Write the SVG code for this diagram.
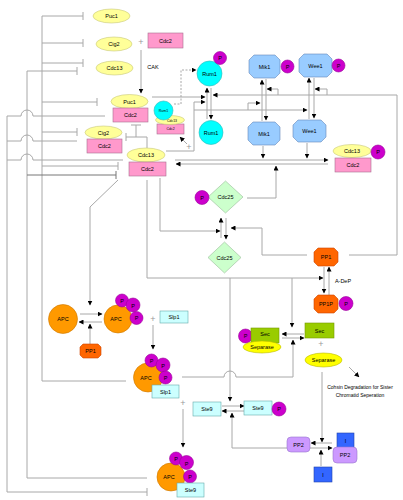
<svg xmlns="http://www.w3.org/2000/svg" width="403" height="500" viewBox="0 0 403 500">
<style>
.ln{fill:none;stroke:#a8a8a8;stroke-width:1}
.dk{stroke:#777}
.ds{stroke-dasharray:2,1.5}
.ar{marker-end:url(#ah)}
.t{font-family:"Liberation Sans",Arial,sans-serif;font-size:5.5px;text-anchor:middle;dominant-baseline:central;fill:#000}
.ts{font-size:3.5px}
.pl{font-family:"Liberation Sans",Arial,sans-serif;font-size:9px;text-anchor:middle;dominant-baseline:central;fill:#999}
.yel{fill:#ffff99;stroke:#c8c878;stroke-width:.6}
.pink{fill:#ff99cc;stroke:#a87090;stroke-width:.6}
.cyan{fill:#00ffff;stroke:#30b8b8;stroke-width:.6}
.p{fill:#cc00cc;stroke:#990099;stroke-width:.6}
.blue{fill:#99ccff;stroke:#6688bb;stroke-width:.6}
.green{fill:#ccffcc;stroke:#99bb99;stroke-width:.6}
.pp1{fill:#ff6600;stroke:#cc4400;stroke-width:.6}
.apc{fill:#ff9900;stroke:#cc7700;stroke-width:.6}
.lc{fill:#ccffff;stroke:#66aaaa;stroke-width:.6}
.sec{fill:#99cc00;stroke:#779900;stroke-width:.6}
.sep{fill:#ffff00;stroke:#bbbb00;stroke-width:.6}
.pp2{fill:#cc99ff;stroke:#9977cc;stroke-width:.6}
.inh{fill:#3366ff;stroke:#2244aa;stroke-width:.6}
</style>
<defs>
<marker id="ah" markerUnits="userSpaceOnUse" markerWidth="5" markerHeight="5" refX="4.5" refY="2.5" orient="auto">
<path d="M0,0 L5,2.5 L0,5 z" fill="#000"/>
</marker>
</defs>
<rect width="403" height="500" fill="#fff"/>

<g id="connectors">
<!-- left trunk x=42 -->
<path class="ln" d="M83,16 H42 V381 H126"/>
<path class="ln" d="M83,12 V20"/>
<path class="ln" d="M42,43 H83 M83,39 V47"/>
<path class="ln" d="M42,63 H83 M83,59 V67"/>
<path class="ln" d="M42,102 H97 M97,98 V106"/>
<path class="ln" d="M42,132 H77 M77,128 V136"/>
<path class="ln" d="M42,166 H118 M118,162 V170"/>
<!-- trunk x=27 -->
<path class="ln" d="M77,71 H27 V478 H147"/>
<path class="ln" d="M77,67 V75"/>
<path class="ln dk" d="M27,175 H116 M116,171 V179"/>
<!-- trunk x=7 -->
<path class="ln" d="M105,116 H33 A6,6 0 0 0 21,116 H7 V492 H147"/>
<path class="ln" d="M147,488 V496"/>
<path class="ln" d="M7,141 H21 A6,6 0 0 1 33,141 H77"/>
<path class="ln" d="M7,160 H21 A6,6 0 0 1 33,160 H123"/>
<!-- Cdc13/Cdc2 inhibits complexes -->
<path class="ln" d="M147,148 V137 H126 M126,133 V141 M136,137 V125 M131,125 H141"/>
<!-- CAK arrow -->
<path class="ln ar" d="M141,50 V93"/>
<!-- to APC -->
<path class="ln ar" d="M118,180 L90,207 V305"/>
<!-- Rum1 -->
<path class="ln ar" d="M152,97 H205"/>
<path class="ln ar" d="M166,151 H194 V102 H205"/>
<path class="ln ar" d="M194,110 H307"/>
<path class="ln ar" d="M248,110 V103 H260"/>
<path class="ln ar" d="M207,119 V88"/>
<path class="ln ar" d="M211,88 V119"/>
<path class="ln ar" d="M262,121 V80"/>
<path class="ln ar" d="M266,79 V120"/>
<path class="ln ar" d="M309,119 V78"/>
<path class="ln ar" d="M314,78 V118"/>
<path class="ln ar" d="M397,95 H213"/>
<path class="ln ar" d="M278,95 V89 H267"/>
<path class="ln ar" d="M327,95 V89 H315"/>
<path class="ln" d="M397,95 V255 H349"/>
<path class="ln ar" d="M307,255 H262 V228 H231"/>
<path class="ln ds ar" d="M174,104 H181 V70 H196"/>
<path class="ln ar" d="M187,144 L180,137"/>
<!-- Cdc13/Cdc2 phosphorylation -->
<path class="ln ar" d="M175,160 H328"/>
<path class="ln ar" d="M328,164 H176"/>
<path class="ln ar" d="M263,146 V158"/>
<path class="ln ar" d="M307,143 V158"/>
<path class="ln ar" d="M247,198 H276 V166"/>
<!-- Cdc25 -->
<path class="ln ar" d="M221,238 V218"/>
<path class="ln ar" d="M226,218 V239"/>
<path class="ln ar" d="M160,178 V231 H220"/>
<!-- PP1 -->
<path class="ln ar" d="M147,180 V278 H323"/>
<path class="ln ar" d="M230,278 V401"/>
<path class="ln ar" d="M292,278 V327"/>
<path class="ln ar" d="M324,267 V293"/>
<path class="ln ar" d="M329,295 V267"/>
<!-- Sec -->
<path class="ln ar" d="M304,334 H282"/>
<path class="ln ar" d="M282,338 H304"/>
<path class="ln ar" d="M182,377 H224 A6,6 0 0 1 236,377 H293 V340"/>
<!-- Separase -->
<path class="ln ar" d="M349,367 L359,377"/>
<path class="ln ar" d="M322,372 V442"/>
<!-- PP2 -->
<path class="ln ar" d="M332,443 H311"/>
<path class="ln ar" d="M310,448 H332"/>
<path class="ln ar" d="M321,466 V450"/>
<path class="ln ar" d="M287,448 H232 V413"/>
<!-- Ste9 -->
<path class="ln ar" d="M222,406 H244"/>
<path class="ln ar" d="M244,411 H222"/>
<!-- APC -->
<path class="ln ar" d="M80,314 H102"/>
<path class="ln ar" d="M102,322 H79"/>
<path class="ln ar" d="M90,344 V324"/>
<path class="ln ar" d="M153,325 V349"/>
<path class="ln ar" d="M183,409 V447"/>
</g>

<g id="plus">
<text class="pl" x="141" y="42">+</text>
<text class="pl" x="189" y="147">+</text>
<text class="pl" x="153" y="319">+</text>
<text class="pl" x="183" y="403">+</text>
<text class="pl" x="321" y="344">+</text>
</g>

<g id="puc1"><ellipse class="yel" cx="111.5" cy="16" rx="18.5" ry="7"/><text class="t" x="111.5" y="16">Puc1</text></g>
<g id="cig2"><ellipse class="yel" cx="114" cy="44" rx="18" ry="7"/><text class="t" x="114" y="44">Cig2</text></g>
<g id="cdc2"><rect class="pink" x="148" y="33" width="35" height="15"/><text class="t" x="165.5" y="40.5">Cdc2</text></g>
<g id="cdc13"><ellipse class="yel" cx="114.5" cy="68" rx="18.5" ry="7"/><text class="t" x="114.5" y="68">Cdc13</text></g>
<g id="cak"><text class="t" x="153" y="67">CAK</text></g>

<g id="puc1-cdc2"><ellipse class="yel" cx="129.5" cy="101.5" rx="18.5" ry="7"/><text class="t" x="129.5" y="101.5">Puc1</text><rect class="pink" x="113" y="108" width="35" height="14"/><text class="t" x="130.5" y="115">Cdc2</text></g>
<g id="cig2-cdc2"><ellipse class="yel" cx="103.5" cy="132.5" rx="18.5" ry="6.5"/><text class="t" x="103.5" y="132.5">Cig2</text><rect class="pink" x="87" y="139" width="35" height="14"/><text class="t" x="104.5" y="146">Cdc2</text></g>
<g id="cdc13-cdc2"><ellipse class="yel" cx="146" cy="155" rx="19" ry="7"/><text class="t" x="146" y="155">Cdc13</text><rect class="pink" x="129" y="162" width="37" height="14"/><text class="t" x="147.5" y="169">Cdc2</text></g>
<g id="rum1-cdc13-cdc2"><rect class="pink" x="157" y="124" width="27" height="10"/><text class="t ts" x="170.5" y="129">Cdc2</text><ellipse class="yel" cx="170" cy="120" rx="14.5" ry="4.5"/><text class="t ts" x="172" y="120.5">Cdc13</text><circle class="cyan" cx="163.5" cy="110.5" r="9.5"/><text class="t ts" x="163.5" y="110.5">Rum1</text></g>

<g id="rum1p"><circle class="cyan" cx="209.5" cy="73.5" r="12.5"/><text class="t" x="209.5" y="73.5">Rum1</text><circle class="p" cx="220" cy="58" r="6.5"/><text class="t" x="220" y="58">P</text></g>
<g id="rum1"><circle class="cyan" cx="211" cy="132.5" r="12"/><text class="t" x="211" y="132.5">Rum1</text></g>
<g id="mik1p"><path class="blue" d="M254,55 H275 L280,60 V73 L275,78 H254 L249,73 V60 Z"/><text class="t" x="264.5" y="66.5">Mik1</text><circle class="p" cx="287.5" cy="66.5" r="6.5"/><text class="t" x="287.5" y="66.5">P</text></g>
<g id="mik1"><path class="blue" d="M253,122 H275 L280,127 V140 L275,145 H253 L248,140 V127 Z"/><text class="t" x="264" y="133.5">Mik1</text></g>
<g id="wee1p"><path class="blue" d="M304,54 H327 L332,59 V72 L327,77 H304 L299,72 V59 Z"/><text class="t" x="315.5" y="65.5">Wee1</text><circle class="p" cx="338.5" cy="65.5" r="6.5"/><text class="t" x="338.5" y="65.5">P</text></g>
<g id="wee1"><path class="blue" d="M298,120 H321 L326,125 V137 L321,142 H298 L293,137 V125 Z"/><text class="t" x="309.5" y="131">Wee1</text></g>
<g id="cdc13-cdc2-p"><ellipse class="yel" cx="352" cy="151" rx="19" ry="6.5"/><text class="t" x="352" y="151">Cdc13</text><rect class="pink" x="335" y="158" width="36" height="14"/><text class="t" x="353" y="165">Cdc2</text><circle class="p" cx="378" cy="152" r="7"/><text class="t" x="378" y="152">P</text></g>
<g id="cdc25p"><path class="green" d="M225.5,181 L243,197 L225.5,213 L208,197 Z"/><text class="t" x="225.5" y="197">Cdc25</text><circle class="p" cx="202" cy="197.5" r="7"/><text class="t" x="202" y="197.5">P</text></g>
<g id="cdc25"><path class="green" d="M224.5,242 L241,257.5 L224.5,273 L208,257.5 Z"/><text class="t" x="224.5" y="257.5">Cdc25</text></g>
<g id="pp1"><path class="pp1" d="M318,248 H334 L338,252 V262 L334,266 H318 L314,262 V252 Z"/><text class="t" x="326" y="257">PP1</text></g>
<g id="adep"><text class="t" x="343" y="281">A-DeP</text></g>
<g id="pp1p"><path class="pp1" d="M318,295 H334 L338,299 V309 L334,313 H318 L314,309 V299 Z"/><text class="t" x="326" y="304">PP1P</text><circle class="p" cx="346" cy="303.5" r="7"/><text class="t" x="346" y="303.5">P</text></g>

<g id="apc"><circle class="apc" cx="63" cy="319" r="14.5"/><text class="t" x="63" y="319">APC</text></g>
<g id="apcp"><circle class="apc" cx="118" cy="319" r="14"/><text class="t" x="116" y="319">APC</text><circle class="p" cx="122" cy="300.5" r="6.5"/><text class="t" x="122" y="300.5">P</text><circle class="p" cx="133" cy="305" r="7"/><text class="t" x="133" y="306">P</text><circle class="p" cx="136.5" cy="318" r="6.5"/><text class="t" x="136.5" y="318">P</text></g>
<g id="pp1-small"><path class="pp1" d="M83,344 H98 L101,347 V355 L98,358 H83 L80,355 V347 Z"/><text class="t" x="90.5" y="351">PP1</text></g>
<g id="slp1"><rect class="lc" x="160" y="311" width="28" height="12"/><text class="t" x="174" y="317">Slp1</text></g>
<g id="apc-slp1"><circle class="apc" cx="148" cy="377.5" r="14.5"/><text class="t" x="146" y="377.5">APC</text><circle class="p" cx="151.5" cy="360.5" r="6.5"/><text class="t" x="151.5" y="360.5">P</text><circle class="p" cx="163" cy="365" r="7"/><text class="t" x="163" y="366">P</text><circle class="p" cx="165.5" cy="377.5" r="6.5"/><text class="t" x="165.5" y="377.5">P</text><rect class="lc" x="152" y="385" width="27" height="13"/><text class="t" x="165.5" y="391.5">Slp1</text></g>

<g id="ste9"><rect class="lc" x="193" y="402" width="28" height="14"/><text class="t" x="207" y="409">Ste9</text></g>
<g id="ste9p"><rect class="lc" x="244" y="401" width="28" height="14"/><text class="t" x="258" y="408">Ste9</text><circle class="p" cx="279" cy="409" r="7"/><text class="t" x="279" y="409">P</text></g>
<g id="apc-ste9"><circle class="apc" cx="171" cy="477" r="14"/><text class="t" x="169" y="477">APC</text><circle class="p" cx="176" cy="458.5" r="6.5"/><text class="t" x="176" y="458.5">P</text><circle class="p" cx="186.5" cy="462.5" r="7"/><text class="t" x="186.5" y="463.5">P</text><circle class="p" cx="190" cy="476.5" r="6.5"/><text class="t" x="190" y="476.5">P</text><rect class="lc" x="177" y="483" width="27" height="14"/><text class="t" x="190.5" y="490">Ste9</text></g>

<g id="sec-separase-p"><circle class="p" cx="245.5" cy="336" r="7"/><text class="t" x="245.5" y="336">P</text><rect class="sec" x="251" y="328" width="28" height="15"/><text class="t" x="265" y="334">Sec</text><ellipse class="sep" cx="262" cy="347" rx="19" ry="6"/><text class="t" x="262" y="347">Separase</text></g>
<g id="sec"><rect class="sec" x="305" y="323" width="29" height="15"/><text class="t" x="319.5" y="330.5">Sec</text></g>
<g id="separase"><ellipse class="sep" cx="323.5" cy="360" rx="18.5" ry="7"/><text class="t" x="323.5" y="360">Separase</text></g>
<g id="cohesin"><text class="t" x="360" y="387" style="font-size:5px">Cohsin Degradation for Sister</text><text class="t" x="360" y="395" style="font-size:5px">Chromatid Seperation</text></g>

<g id="pp2"><rect class="pp2" x="287" y="437" width="23" height="15" rx="4"/><text class="t" x="298.5" y="444.5">PP2</text></g>
<g id="i"><rect class="inh" x="314" y="467" width="18" height="15"/><text class="t" x="323" y="474.5">I</text></g>
<g id="i-pp2"><rect class="inh" x="337" y="433" width="17" height="15"/><text class="t" x="345.5" y="440.5">I</text><rect class="pp2" x="333" y="447" width="24" height="16" rx="4"/><text class="t" x="345" y="455">PP2</text></g>
</svg>
